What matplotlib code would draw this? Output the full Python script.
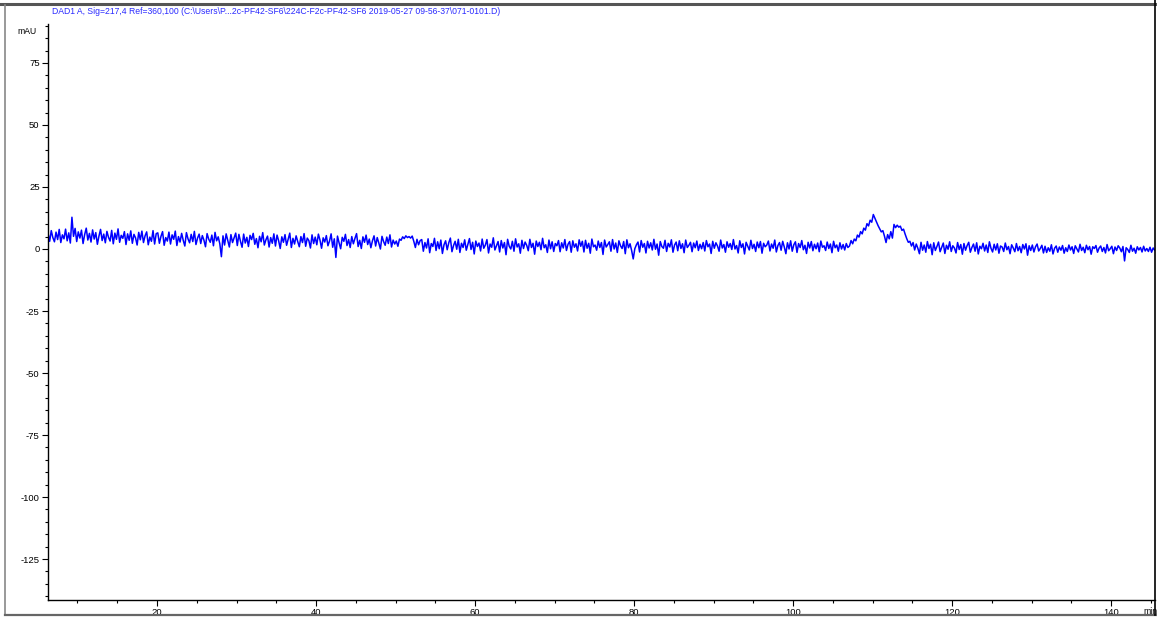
import numpy as np
import matplotlib
matplotlib.use("Agg")
import matplotlib.pyplot as plt
from matplotlib.ticker import MultipleLocator
from matplotlib.lines import Line2D

# trace header and axis labels
title_text = r"DAD1 A, Sig=217,4 Ref=360,100 (C:\Users\P...2c-PF42-SF6\224C-F2c-PF42-SF6 2019-05-27 09-56-37\071-0101.D)"
y_unit = "mAU"
x_unit = "min"

# sampling of the trace (min)
t_start = 6.3
t_step = 0.2

# signal values (mAU)
sig_start = [6.2, 3.1, 7.4, 4.6, 2.9, 6.8, 3.8, 7.9, 2.6, 5.7,
             4.1, 8.0, 3.3, 6.5, 2.4, 12.8, 5.1, 8.3, 3.0, 6.9,
             4.4, 7.6, 2.2, 5.8, 8.4, 3.6, 6.3, 2.8, 7.7, 4.0,
             6.6, 1.9, 5.2, 7.9, 3.4, 6.0, 2.5, 7.1, 4.7, 3.2,
             7.5, 2.1, 6.4, 3.9, 8.1, 2.7, 5.5, 4.3, 7.0, 1.8,
             6.1, 3.5, 7.3, 2.3, 5.9, 4.5, 1.6, 6.7, 3.7, 7.2,
             2.6, 5.3, 6.9, 1.7, 4.8, 3.1, 7.4, 2.0, 6.2]
sig_20_30 = [6.5, 2.3, 5.1, 7.0, 1.5, 4.6, 3.2, 6.8, 2.0, 5.7,
             3.9, 7.2, 1.4, 5.0, 2.8, 6.3, 3.5, 1.2, 6.6, 4.1,
             2.5, 5.9, 3.0, 7.1, 1.8, 4.4, 6.0, 2.2, 5.4, 3.6,
             0.9, 6.2, 4.0, 2.7, 5.6, 1.3, 6.7, 3.3, 4.9, 2.1,
             -3.1, 5.3, 1.6, 6.1, 3.4, 0.8, 5.8, 2.6, 4.5, 6.4]
sig_30_50 = [1.4, 5.9, 3.1, 0.7, 6.0, 2.4, 4.7, 1.0, 5.5, 3.8,
             6.3, 1.9, 4.2, 0.5, 5.1, 2.9, 6.6, 1.6, 3.7, 5.2,
             0.8, 4.6, 2.3, 6.1, 1.2, 5.6, 3.3, 0.2, 4.9, 2.7,
             5.8, 1.5, 3.9, 6.4, 0.6, 4.3, 2.0, 5.3, 3.0, 0.9,
             5.0, 2.6, 6.2, 1.1, 4.4, 3.4, 0.4, 5.7, 2.2, 4.8,
             1.7, 6.0, 3.6, 0.3, 4.5, 2.8, 5.4, 1.3, 3.2, 6.1,
             0.7, 4.1, -3.4, 5.2, 2.5, 0.1, 4.7, 3.1, 5.9, 1.4,
             3.8, 0.6, 5.0, 2.1, 4.3, 6.2, 1.0, 3.5, 0.2, 4.9,
             2.7, 5.6, 1.8, 4.0, 0.5, 3.3, 5.3, 1.2, 4.6, 2.4,
             0.0, 5.1, 3.0, 1.5, 4.8, 2.2, 5.7, 0.8, 3.6, 2.0]
sig_bump = [3.2, 1.1, 4.0, 3.5, 4.9, 4.2, 5.3, 4.6,
            5.0, 4.4, 5.2, 3.1, 0.6, 3.9, 1.7, 3.4]
sig_mid = [3.8, -0.9, 2.6, 0.4, 4.1, -1.5, 2.2, 1.0, 4.3, -0.6,
           2.9, 0.1, 3.6, -1.8, 1.7, 3.3, -0.3, 2.5, 4.4, -1.1,
           1.4, 3.1, -0.1, 3.9, -1.4, 2.3, 0.6, 3.7, -0.5, 1.8,
           4.2, -0.2, 2.7, -2.0, 3.2, 1.0, 2.4, -0.8, 4.0, 0.3,
           1.6, 3.8, -1.6, 2.0, 0.7, 4.5, -0.4, 1.3, 3.0, -1.2,
           3.4, 0.4, 2.6, -2.3, 3.9, 1.1, 0.0, 3.1, -0.9, 4.1,
           0.8, 2.1, -1.7, 3.5, 0.2, 2.8, 1.5, -0.7, 3.9, 0.6,
           2.3, -2.1, 3.2, 1.0, 2.7, -0.3, 4.3, 0.5, 1.7, -1.4,
           3.6, 0.1, 2.9, -1.0, 2.2, 1.3, 3.4, -1.1, 2.5, 0.4,
           3.8, -0.6, 1.9, 3.0, -1.3, 3.3, 0.7, 2.1, -0.8, 3.7,
           1.1, 3.1, -1.2, 3.5, 0.3, 2.3, -1.7, 4.0, 0.9, 1.6,
           -0.5, 3.2, 0.6, 2.6, -2.2, 3.6, 0.8, 1.8, 2.9, -0.9,
           3.8, 0.0, 2.4, -1.4, 3.3, 1.3, 0.2, 3.0, -1.9, 3.7,
           0.5, 2.1, -0.6, -4.0, 0.1, 1.7, 2.8, -1.2, 3.4, 0.7,
           2.2, -1.6, 3.1, 0.4, 2.5, -0.4, 3.9, -0.1, 2.0, -2.5,
           3.0, 1.0, 0.3, 3.5, -1.0, 2.3, 0.8, 3.7, -1.3, 1.6,
           2.8, -0.7, 3.3, 0.2, 2.1, -1.5, 3.6, 0.6, 1.5, 2.7,
           -1.1, 2.4, 0.5, 3.2, -0.6, 1.9, 0.1, 2.6, -0.8, 3.4,
           0.9, 2.0, -1.8, 3.1, 0.3, 2.5, 1.2, -0.9, 3.6, 0.4,
           1.8, -1.3, 2.9, 0.7, 2.2, -0.2, 3.8, 0.0, 1.4, -1.6,
           3.3, 0.6, 2.1, -2.0, 2.7, 1.1, -0.4, 3.5, 0.2, 1.9,
           -1.0, 2.8, 0.5, 3.0, -1.7, 2.3, 0.9, 1.6, 3.2, -0.8,
           2.0, 0.3, 3.6, -1.2, 1.4, 2.6, -0.5, 3.1, 0.8, -1.9,
           2.5, 0.0, 3.3, -0.9, 1.7, 2.9, -1.4, 2.2, 0.6, 3.4,
           -0.3, 1.5, -1.8, 2.7, 0.4, 3.0, -0.7, 1.9, 0.1, 2.4,
           -1.1, 3.2, 0.7, 1.3, -0.6, 2.8, 0.2, 2.0, -1.5, 3.1,
           0.5, 1.6, -0.9, 2.5, 0.0, 1.8, -0.4, 2.2, 0.6]
sig_peaks = [1.2, 3.4, 2.1, 4.0, 3.3, 5.6, 4.8, 7.0, 6.1, 8.4,
             7.6, 10.2, 9.3, 11.6, 10.8, 13.9, 12.4, 11.0, 9.4, 8.1,
             6.9, 7.4, 5.2, 2.6, 5.8, 4.1, 7.0, 4.4, 9.9, 8.6,
             9.6, 8.8, 9.2, 7.5, 8.0, 6.0, 4.2, 2.7]
sig_end = [3.1, 1.2, 2.6, -0.4, 2.0, 0.3, -1.9, 2.7, -0.5, 1.6,
           -1.3, 3.0, 0.2, 1.9, -2.3, 2.5, -0.6, 1.0, 2.8, -1.1,
           0.7, 2.4, -1.8, 1.5, -0.1, 2.9, -1.0, 1.3, 0.4, -1.6,
           2.6, -0.2, 1.8, -2.1, 2.2, -0.5, 1.4, 2.7, -1.3, 0.6,
           2.0, -0.9, 2.5, -2.0, 1.1, 0.1, 2.3, -0.8, 1.6, -1.4,
           2.9, 0.3, -1.2, 1.9, -0.4, 2.1, -1.7, 1.2, 0.8, -1.0,
           2.4, -0.3, 1.0, -1.9, 1.7, 0.4, -1.1, 2.2, -0.7, 1.0,
           -1.5, 1.8, 0.0, 2.1, -2.5, 1.3, -0.6, 1.6, -1.2, 0.9,
           2.0, -0.8, 0.2, 1.5, -1.6, 1.1, -1.4, 0.5, -0.9, 1.7,
           -2.0, 0.3, 1.2, -1.3, 0.8, -0.5, 1.4, -1.7, 0.5, -1.0,
           1.6, -0.4, 0.9, -1.8, 1.3, 0.0, -1.2, 1.9, -0.6, 0.7,
           -1.5, 1.5, -0.3, 1.0, -2.1, 0.9, 0.2, 1.4, -1.3, 0.4,
           1.2, -1.0, 0.6, -1.6, 1.8, -0.7, 0.1, 1.1, -1.9, 0.8,
           -0.6, 1.3, 0.4, -1.1, 1.0, -4.8, 0.5, -0.2, -1.4, 1.5,
           -0.9, 0.3, -1.7, 0.9, -0.4, 0.6, -1.2, 1.1, -0.8, 0.2,
           -1.0, 0.7, -1.3, 0.4, -0.5]

signal = np.array(sig_start + sig_20_30 + sig_30_50 + sig_bump
                  + sig_mid + sig_peaks + sig_end)
times = t_start + t_step * np.arange(len(signal))

# axis ticks
x_major = [20, 40, 60, 80, 100, 120, 140]
y_major = [75, 50, 25, 0, -25, -50, -75, -100, -125]

# labels of the chromatogram above (only their lower edge is visible)
top_labels = ["20", "40", "60", "80", "100", "min"]
top_label_x = [194, 396, 591, 787, 985, 1152]

W, H = 1157, 619
plt.rcParams['font.family'] = ['Liberation Sans', 'DejaVu Sans']
plt.rcParams['axes.unicode_minus'] = False
tick_fs = 6.8
title_fs = 6.2

fig = plt.figure(figsize=(W / 100, H / 100), dpi=100)
fig.patch.set_facecolor("white")

ax = fig.add_axes([48 / W, (H - 600) / H, (1155 - 48) / W, (600 - 24) / H])
ax.plot(times, signal, color="#0000ff", lw=1.1)

ax.set_xlim(6.29, 145.53)
ax.set_ylim(-141.5, 90.7)

ax.spines["top"].set_visible(False)
ax.spines["right"].set_visible(False)
for s in ("left", "bottom"):
    ax.spines[s].set_linewidth(1.0)
    ax.spines[s].set_color("black")

ax.set_xticks(x_major)
ax.set_yticks(y_major)
ax.xaxis.set_minor_locator(MultipleLocator(5))
ax.yaxis.set_minor_locator(MultipleLocator(5))
ax.tick_params(axis="both", which="major", direction="out", length=4, width=0.8,
               labelsize=tick_fs, pad=2)
ax.tick_params(axis="both", which="minor", direction="out", length=2.5, width=0.8)

# unit labels
fig.text(37 / W, 1 - 31 / H, y_unit, fontsize=title_fs, ha="right", va="center")
fig.text(1150 / W, 1 - 611 / H, x_unit, fontsize=title_fs, ha="center", va="center")

# trace header
fig.text(52 / W, 1 - 11 / H, title_text, fontsize=title_fs, color="#2a2aff",
         ha="left", va="center")

# frame of the report page
fig.add_artist(Line2D([0, 1], [1 - 4 / H, 1 - 4 / H], color="#555555", lw=2.2,
                      transform=fig.transFigure))
fig.add_artist(Line2D([5 / W, 5 / W], [1 - 5 / H, 1 - 615 / H], color="#888888",
                      lw=1.2, transform=fig.transFigure))
fig.add_artist(Line2D([5 / W, 1], [1 - 615 / H, 1 - 615 / H], color="#666666",
                      lw=1.6, transform=fig.transFigure))
fig.add_artist(Line2D([1154.5 / W, 1154.5 / W], [1, 1 - 615 / H], color="black",
                      lw=1.2, transform=fig.transFigure))

for lab, xp in zip(top_labels, top_label_x):
    fig.text(xp / W, 1 + 4 / H, lab, fontsize=tick_fs, ha="center", va="center")

fig.savefig("out.png", dpi=100, facecolor="white")
